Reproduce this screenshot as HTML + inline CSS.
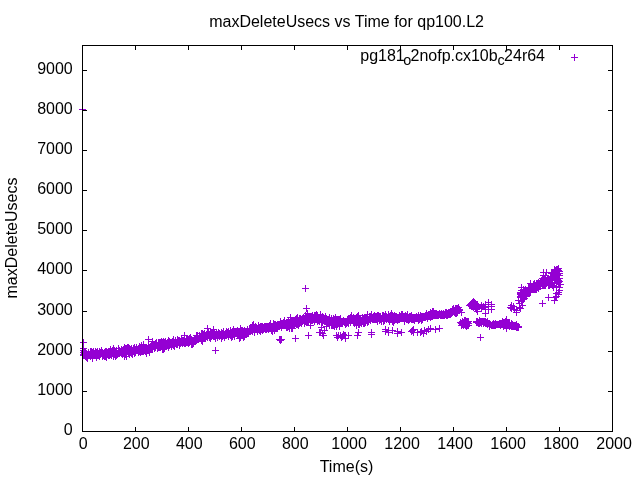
<!DOCTYPE html>
<html><head><meta charset="utf-8"><title>maxDeleteUsecs vs Time for qp100.L2</title>
<style>
html,body{margin:0;padding:0;background:#fff;}
svg{display:block;font-family:"Liberation Sans",Arial,sans-serif;font-size:16px;fill:#000;}
</style></head><body>
<svg width="640" height="480" viewBox="0 0 640 480">
<rect width="640" height="480" fill="#fff"/>
<path d="M82.5 431.5v-4.5M82.5 45.5v4.5M135.5 431.5v-4.5M135.5 45.5v4.5M188.5 431.5v-4.5M188.5 45.5v4.5M241.5 431.5v-4.5M241.5 45.5v4.5M294.5 431.5v-4.5M294.5 45.5v4.5M347.5 431.5v-4.5M347.5 45.5v4.5M400.5 431.5v-4.5M400.5 45.5v4.5M453.5 431.5v-4.5M453.5 45.5v4.5M506.5 431.5v-4.5M506.5 45.5v4.5M559.5 431.5v-4.5M559.5 45.5v4.5M612.5 431.5v-4.5M612.5 45.5v4.5M82.5 431.5h4.5M612.5 431.5h-4.5M82.5 391.5h4.5M612.5 391.5h-4.5M82.5 351.5h4.5M612.5 351.5h-4.5M82.5 311.5h4.5M612.5 311.5h-4.5M82.5 270.5h4.5M612.5 270.5h-4.5M82.5 230.5h4.5M612.5 230.5h-4.5M82.5 190.5h4.5M612.5 190.5h-4.5M82.5 150.5h4.5M612.5 150.5h-4.5M82.5 110.5h4.5M612.5 110.5h-4.5M82.5 70.5h4.5M612.5 70.5h-4.5" fill="none" stroke="#000" stroke-width="1" shape-rendering="crispEdges"/>
<g>
<text x="83.3" y="449.1" text-anchor="middle">0</text>
<text x="136.3" y="449.1" text-anchor="middle">200</text>
<text x="189.3" y="449.1" text-anchor="middle">400</text>
<text x="242.3" y="449.1" text-anchor="middle">600</text>
<text x="295.3" y="449.1" text-anchor="middle">800</text>
<text x="349.1" y="449.1" text-anchor="middle">1000</text>
<text x="402.1" y="449.1" text-anchor="middle">1200</text>
<text x="455.1" y="449.1" text-anchor="middle">1400</text>
<text x="508.1" y="449.1" text-anchor="middle">1600</text>
<text x="561.1" y="449.1" text-anchor="middle">1800</text>
<text x="614.1" y="449.1" text-anchor="middle">2000</text>
<text x="72.75" y="434.9" text-anchor="end">0</text>
<text x="72.75" y="394.9" text-anchor="end">1000</text>
<text x="72.75" y="354.9" text-anchor="end">2000</text>
<text x="72.75" y="314.9" text-anchor="end">3000</text>
<text x="72.75" y="273.9" text-anchor="end">4000</text>
<text x="72.75" y="233.9" text-anchor="end">5000</text>
<text x="72.75" y="193.9" text-anchor="end">6000</text>
<text x="72.75" y="153.9" text-anchor="end">7000</text>
<text x="72.75" y="113.9" text-anchor="end">8000</text>
<text x="72.75" y="73.9" text-anchor="end">9000</text>
</g>
<text x="346.6" y="27.2" text-anchor="middle">maxDeleteUsecs vs Time for qp100.L2</text>
<text x="346.5" y="472" text-anchor="middle">Time(s)</text>
<text transform="translate(17.4,238) rotate(-90)" text-anchor="middle">maxDeleteUsecs</text>
<text x="545" y="60.6" text-anchor="end">pg181<tspan font-size="14.4px" dy="4" dx="-1.5">o</tspan><tspan dy="-4" dx="-0.8">2nofp.cx10b</tspan><tspan font-size="14.4px" dy="4" dx="-0.3">c</tspan><tspan dy="-4" dx="-0.5">24r64</tspan></text>
<path d="M80 350.5h7M83.5 347v7M80 354.5h7M83.5 351v7M81 355.5h7M84.5 352v7M81 352.5h7M84.5 349v7M81 351.5h7M84.5 348v7M81 353.5h7M84.5 350v7M82 354.5h7M85.5 351v7M82 356.5h7M85.5 353v7M82 351.5h7M85.5 348v7M83 355.5h7M86.5 352v7M83 357.5h7M86.5 354v7M83 356.5h7M86.5 353v7M84 354.5h7M87.5 351v7M84 358.5h7M87.5 355v7M85 353.5h7M88.5 350v7M85 352.5h7M88.5 349v7M85 355.5h7M88.5 352v7M86 355.5h7M89.5 352v7M86 354.5h7M89.5 351v7M87 355.5h7M90.5 352v7M87 356.5h7M90.5 353v7M87 354.5h7M90.5 351v7M87 351.5h7M90.5 348v7M88 355.5h7M91.5 352v7M88 351.5h7M91.5 348v7M88 353.5h7M91.5 350v7M89 354.5h7M92.5 351v7M89 352.5h7M92.5 349v7M89 358.5h7M92.5 355v7M90 353.5h7M93.5 350v7M90 355.5h7M93.5 352v7M90 351.5h7M93.5 348v7M91 353.5h7M94.5 350v7M91 355.5h7M94.5 352v7M91 354.5h7M94.5 351v7M92 353.5h7M95.5 350v7M92 351.5h7M95.5 348v7M92 354.5h7M95.5 351v7M93 357.5h7M96.5 354v7M93 352.5h7M96.5 349v7M93 354.5h7M96.5 351v7M93 353.5h7M96.5 350v7M94 355.5h7M97.5 352v7M94 351.5h7M97.5 348v7M94 352.5h7M97.5 349v7M95 355.5h7M98.5 352v7M95 354.5h7M98.5 351v7M95 353.5h7M98.5 350v7M96 351.5h7M99.5 348v7M96 354.5h7M99.5 351v7M96 356.5h7M99.5 353v7M97 352.5h7M100.5 349v7M97 354.5h7M100.5 351v7M97 353.5h7M100.5 350v7M98 353.5h7M101.5 350v7M98 351.5h7M101.5 348v7M98 350.5h7M101.5 347v7M99 352.5h7M102.5 349v7M99 354.5h7M102.5 351v7M99 356.5h7M102.5 353v7M99 355.5h7M102.5 352v7M100 355.5h7M103.5 352v7M100 354.5h7M103.5 351v7M101 353.5h7M104.5 350v7M101 354.5h7M104.5 351v7M101 356.5h7M104.5 353v7M101 352.5h7M104.5 349v7M102 351.5h7M105.5 348v7M102 356.5h7M105.5 353v7M102 353.5h7M105.5 350v7M102 355.5h7M105.5 352v7M103 354.5h7M106.5 351v7M103 351.5h7M106.5 348v7M103 357.5h7M106.5 354v7M103 356.5h7M106.5 353v7M104 353.5h7M107.5 350v7M104 354.5h7M107.5 351v7M105 351.5h7M108.5 348v7M105 353.5h7M108.5 350v7M105 355.5h7M108.5 352v7M106 354.5h7M109.5 351v7M106 353.5h7M109.5 350v7M106 355.5h7M109.5 352v7M106 351.5h7M109.5 348v7M107 354.5h7M110.5 351v7M107 352.5h7M110.5 349v7M107 349.5h7M110.5 346v7M108 351.5h7M111.5 348v7M108 353.5h7M111.5 350v7M108 355.5h7M111.5 352v7M109 350.5h7M112.5 347v7M109 352.5h7M112.5 349v7M109 353.5h7M112.5 350v7M110 352.5h7M113.5 349v7M110 348.5h7M113.5 345v7M110 354.5h7M113.5 351v7M110 356.5h7M113.5 353v7M111 354.5h7M114.5 351v7M111 350.5h7M114.5 347v7M111 351.5h7M114.5 348v7M111 352.5h7M114.5 349v7M112 356.5h7M115.5 353v7M112 353.5h7M115.5 350v7M112 352.5h7M115.5 349v7M112 355.5h7M115.5 352v7M113 352.5h7M116.5 349v7M113 355.5h7M116.5 352v7M113 350.5h7M116.5 347v7M113 351.5h7M116.5 348v7M114 353.5h7M117.5 350v7M114 354.5h7M117.5 351v7M115 352.5h7M118.5 349v7M115 348.5h7M118.5 345v7M115 350.5h7M118.5 347v7M116 350.5h7M119.5 347v7M116 353.5h7M119.5 350v7M116 351.5h7M119.5 348v7M117 352.5h7M120.5 349v7M117 351.5h7M120.5 348v7M118 353.5h7M121.5 350v7M118 350.5h7M121.5 347v7M118 351.5h7M121.5 348v7M118 349.5h7M121.5 346v7M119 354.5h7M122.5 351v7M119 351.5h7M122.5 348v7M120 350.5h7M123.5 347v7M120 349.5h7M123.5 346v7M120 352.5h7M123.5 349v7M121 356.5h7M124.5 353v7M121 352.5h7M124.5 349v7M121 350.5h7M124.5 347v7M121 347.5h7M124.5 344v7M122 354.5h7M125.5 351v7M122 352.5h7M125.5 349v7M122 348.5h7M125.5 345v7M122 351.5h7M125.5 348v7M123 348.5h7M126.5 345v7M123 356.5h7M126.5 353v7M123 353.5h7M126.5 350v7M123 352.5h7M126.5 349v7M124 351.5h7M127.5 348v7M124 347.5h7M127.5 344v7M125 348.5h7M128.5 345v7M125 352.5h7M128.5 349v7M125 347.5h7M128.5 344v7M125 349.5h7M128.5 346v7M126 353.5h7M129.5 350v7M126 354.5h7M129.5 351v7M126 349.5h7M129.5 346v7M126 348.5h7M129.5 345v7M127 352.5h7M130.5 349v7M127 349.5h7M130.5 346v7M128 349.5h7M131.5 346v7M128 348.5h7M131.5 345v7M128 353.5h7M131.5 350v7M129 352.5h7M132.5 349v7M129 354.5h7M132.5 351v7M129 350.5h7M132.5 347v7M130 350.5h7M133.5 347v7M130 349.5h7M133.5 346v7M130 348.5h7M133.5 345v7M131 347.5h7M134.5 344v7M131 351.5h7M134.5 348v7M131 353.5h7M134.5 350v7M131 352.5h7M134.5 349v7M132 352.5h7M135.5 349v7M132 351.5h7M135.5 348v7M132 349.5h7M135.5 346v7M132 350.5h7M135.5 347v7M133 349.5h7M136.5 346v7M133 348.5h7M136.5 345v7M133 347.5h7M136.5 344v7M134 350.5h7M137.5 347v7M134 349.5h7M137.5 346v7M135 352.5h7M138.5 349v7M135 350.5h7M138.5 347v7M135 351.5h7M138.5 348v7M136 348.5h7M139.5 345v7M136 346.5h7M139.5 343v7M136 351.5h7M139.5 348v7M137 352.5h7M140.5 349v7M137 350.5h7M140.5 347v7M137 351.5h7M140.5 348v7M138 345.5h7M141.5 342v7M138 351.5h7M141.5 348v7M138 348.5h7M141.5 345v7M139 348.5h7M142.5 345v7M139 351.5h7M142.5 348v7M140 351.5h7M143.5 348v7M140 346.5h7M143.5 343v7M140 348.5h7M143.5 345v7M140 344.5h7M143.5 341v7M141 349.5h7M144.5 346v7M141 350.5h7M144.5 347v7M141 347.5h7M144.5 344v7M142 349.5h7M145.5 346v7M142 351.5h7M145.5 348v7M142 347.5h7M145.5 344v7M143 347.5h7M146.5 344v7M143 353.5h7M146.5 350v7M143 351.5h7M146.5 348v7M144 348.5h7M147.5 345v7M144 349.5h7M147.5 346v7M145 348.5h7M148.5 345v7M145 345.5h7M148.5 342v7M145 347.5h7M148.5 344v7M146 352.5h7M149.5 349v7M146 350.5h7M149.5 347v7M146 348.5h7M149.5 345v7M146 347.5h7M149.5 344v7M147 348.5h7M150.5 345v7M147 346.5h7M150.5 343v7M148 348.5h7M151.5 345v7M148 345.5h7M151.5 342v7M149 344.5h7M152.5 341v7M149 348.5h7M152.5 345v7M149 341.5h7M152.5 338v7M150 345.5h7M153.5 342v7M150 344.5h7M153.5 341v7M150 346.5h7M153.5 343v7M151 348.5h7M154.5 345v7M151 346.5h7M154.5 343v7M151 345.5h7M154.5 342v7M151 344.5h7M154.5 341v7M152 345.5h7M155.5 342v7M152 347.5h7M155.5 344v7M152 343.5h7M155.5 340v7M153 343.5h7M156.5 340v7M153 342.5h7M156.5 339v7M154 347.5h7M157.5 344v7M154 346.5h7M157.5 343v7M154 345.5h7M157.5 342v7M154 348.5h7M157.5 345v7M155 344.5h7M158.5 341v7M155 347.5h7M158.5 344v7M155 342.5h7M158.5 339v7M156 342.5h7M159.5 339v7M156 343.5h7M159.5 340v7M156 347.5h7M159.5 344v7M157 342.5h7M160.5 339v7M157 347.5h7M160.5 344v7M157 344.5h7M160.5 341v7M158 344.5h7M161.5 341v7M158 341.5h7M161.5 338v7M159 343.5h7M162.5 340v7M159 342.5h7M162.5 339v7M159 345.5h7M162.5 342v7M159 349.5h7M162.5 346v7M160 349.5h7M163.5 346v7M160 344.5h7M163.5 341v7M160 341.5h7M163.5 338v7M160 343.5h7M163.5 340v7M161 342.5h7M164.5 339v7M161 348.5h7M164.5 345v7M161 345.5h7M164.5 342v7M161 343.5h7M164.5 340v7M162 346.5h7M165.5 343v7M162 345.5h7M165.5 342v7M162 341.5h7M165.5 338v7M162 343.5h7M165.5 340v7M163 343.5h7M166.5 340v7M163 344.5h7M166.5 341v7M164 343.5h7M167.5 340v7M164 344.5h7M167.5 341v7M164 342.5h7M167.5 339v7M165 347.5h7M168.5 344v7M165 344.5h7M168.5 341v7M165 340.5h7M168.5 337v7M166 343.5h7M169.5 340v7M166 345.5h7M169.5 342v7M166 341.5h7M169.5 338v7M167 342.5h7M170.5 339v7M167 344.5h7M170.5 341v7M167 343.5h7M170.5 340v7M168 345.5h7M171.5 342v7M168 342.5h7M171.5 339v7M168 346.5h7M171.5 343v7M169 341.5h7M172.5 338v7M169 344.5h7M172.5 341v7M170 342.5h7M173.5 339v7M170 344.5h7M173.5 341v7M170 345.5h7M173.5 342v7M170 339.5h7M173.5 336v7M171 343.5h7M174.5 340v7M171 346.5h7M174.5 343v7M171 345.5h7M174.5 342v7M171 342.5h7M174.5 339v7M172 341.5h7M175.5 338v7M172 342.5h7M175.5 339v7M172 340.5h7M175.5 337v7M173 342.5h7M176.5 339v7M173 344.5h7M176.5 341v7M174 342.5h7M177.5 339v7M174 339.5h7M177.5 336v7M174 344.5h7M177.5 341v7M174 340.5h7M177.5 337v7M175 341.5h7M178.5 338v7M175 340.5h7M178.5 337v7M176 341.5h7M179.5 338v7M176 345.5h7M179.5 342v7M176 340.5h7M179.5 337v7M177 343.5h7M180.5 340v7M177 342.5h7M180.5 339v7M178 338.5h7M181.5 335v7M178 339.5h7M181.5 336v7M178 341.5h7M181.5 338v7M179 342.5h7M182.5 339v7M179 343.5h7M182.5 340v7M179 340.5h7M182.5 337v7M180 341.5h7M183.5 338v7M180 340.5h7M183.5 337v7M180 342.5h7M183.5 339v7M181 340.5h7M184.5 337v7M181 339.5h7M184.5 336v7M181 343.5h7M184.5 340v7M182 343.5h7M185.5 340v7M182 342.5h7M185.5 339v7M183 341.5h7M186.5 338v7M183 342.5h7M186.5 339v7M183 338.5h7M186.5 335v7M184 340.5h7M187.5 337v7M184 339.5h7M187.5 336v7M184 342.5h7M187.5 339v7M185 340.5h7M188.5 337v7M185 341.5h7M188.5 338v7M185 343.5h7M188.5 340v7M185 339.5h7M188.5 336v7M186 338.5h7M189.5 335v7M186 342.5h7M189.5 339v7M186 341.5h7M189.5 338v7M187 339.5h7M190.5 336v7M187 340.5h7M190.5 337v7M187 337.5h7M190.5 334v7M188 342.5h7M191.5 339v7M188 339.5h7M191.5 336v7M188 344.5h7M191.5 341v7M189 342.5h7M192.5 339v7M189 344.5h7M192.5 341v7M189 341.5h7M192.5 338v7M189 340.5h7M192.5 337v7M190 341.5h7M193.5 338v7M190 343.5h7M193.5 340v7M190 340.5h7M193.5 337v7M191 341.5h7M194.5 338v7M191 339.5h7M194.5 336v7M191 340.5h7M194.5 337v7M192 338.5h7M195.5 335v7M192 341.5h7M195.5 338v7M193 339.5h7M196.5 336v7M193 337.5h7M196.5 334v7M193 335.5h7M196.5 332v7M193 340.5h7M196.5 337v7M194 339.5h7M197.5 336v7M194 335.5h7M197.5 332v7M194 338.5h7M197.5 335v7M195 338.5h7M198.5 335v7M195 339.5h7M198.5 336v7M196 338.5h7M199.5 335v7M196 335.5h7M199.5 332v7M196 337.5h7M199.5 334v7M196 336.5h7M199.5 333v7M197 337.5h7M200.5 334v7M197 338.5h7M200.5 335v7M198 340.5h7M201.5 337v7M198 333.5h7M201.5 330v7M198 338.5h7M201.5 335v7M198 336.5h7M201.5 333v7M199 341.5h7M202.5 338v7M199 338.5h7M202.5 335v7M199 333.5h7M202.5 330v7M199 337.5h7M202.5 334v7M200 335.5h7M203.5 332v7M200 338.5h7M203.5 335v7M200 334.5h7M203.5 331v7M200 336.5h7M203.5 333v7M201 336.5h7M204.5 333v7M201 335.5h7M204.5 332v7M201 333.5h7M204.5 330v7M202 336.5h7M205.5 333v7M202 337.5h7M205.5 334v7M202 335.5h7M205.5 332v7M203 334.5h7M206.5 331v7M203 336.5h7M206.5 333v7M203 335.5h7M206.5 332v7M204 335.5h7M207.5 332v7M204 337.5h7M207.5 334v7M204 333.5h7M207.5 330v7M204 334.5h7M207.5 331v7M205 332.5h7M208.5 329v7M205 334.5h7M208.5 331v7M205 333.5h7M208.5 330v7M206 334.5h7M209.5 331v7M206 337.5h7M209.5 334v7M207 338.5h7M210.5 335v7M207 334.5h7M210.5 331v7M207 332.5h7M210.5 329v7M208 335.5h7M211.5 332v7M208 333.5h7M211.5 330v7M208 336.5h7M211.5 333v7M209 334.5h7M212.5 331v7M209 333.5h7M212.5 330v7M210 334.5h7M213.5 331v7M210 336.5h7M213.5 333v7M211 336.5h7M214.5 333v7M211 335.5h7M214.5 332v7M211 333.5h7M214.5 330v7M212 335.5h7M215.5 332v7M212 338.5h7M215.5 335v7M212 334.5h7M215.5 331v7M213 333.5h7M216.5 330v7M214 334.5h7M217.5 331v7M214 337.5h7M217.5 334v7M214 335.5h7M217.5 332v7M215 332.5h7M218.5 329v7M215 335.5h7M218.5 332v7M215 334.5h7M218.5 331v7M216 333.5h7M219.5 330v7M216 334.5h7M219.5 331v7M216 336.5h7M219.5 333v7M216 335.5h7M219.5 332v7M217 335.5h7M220.5 332v7M217 334.5h7M220.5 331v7M218 334.5h7M221.5 331v7M218 338.5h7M221.5 335v7M218 332.5h7M221.5 329v7M218 333.5h7M221.5 330v7M219 336.5h7M222.5 333v7M219 333.5h7M222.5 330v7M219 334.5h7M222.5 331v7M220 334.5h7M223.5 331v7M220 333.5h7M223.5 330v7M220 331.5h7M223.5 328v7M220 332.5h7M223.5 329v7M221 337.5h7M224.5 334v7M221 335.5h7M224.5 332v7M222 334.5h7M225.5 331v7M222 335.5h7M225.5 332v7M222 333.5h7M225.5 330v7M223 333.5h7M226.5 330v7M223 335.5h7M226.5 332v7M223 331.5h7M226.5 328v7M224 333.5h7M227.5 330v7M224 332.5h7M227.5 329v7M224 334.5h7M227.5 331v7M225 331.5h7M228.5 328v7M225 333.5h7M228.5 330v7M225 336.5h7M228.5 333v7M226 333.5h7M229.5 330v7M226 334.5h7M229.5 331v7M227 335.5h7M230.5 332v7M227 330.5h7M230.5 327v7M228 333.5h7M231.5 330v7M228 332.5h7M231.5 329v7M228 337.5h7M231.5 334v7M229 336.5h7M232.5 333v7M229 335.5h7M232.5 332v7M229 331.5h7M232.5 328v7M229 334.5h7M232.5 331v7M230 334.5h7M233.5 331v7M230 333.5h7M233.5 330v7M230 329.5h7M233.5 326v7M230 332.5h7M233.5 329v7M231 333.5h7M234.5 330v7M231 331.5h7M234.5 328v7M231 336.5h7M234.5 333v7M232 332.5h7M235.5 329v7M232 331.5h7M235.5 328v7M233 331.5h7M236.5 328v7M233 333.5h7M236.5 330v7M233 332.5h7M236.5 329v7M234 333.5h7M237.5 330v7M234 330.5h7M237.5 327v7M234 334.5h7M237.5 331v7M234 332.5h7M237.5 329v7M235 334.5h7M238.5 331v7M235 331.5h7M238.5 328v7M235 332.5h7M238.5 329v7M236 331.5h7M239.5 328v7M236 338.5h7M239.5 335v7M236 333.5h7M239.5 330v7M237 333.5h7M240.5 330v7M237 332.5h7M240.5 329v7M237 337.5h7M240.5 334v7M237 336.5h7M240.5 333v7M238 334.5h7M241.5 331v7M238 330.5h7M241.5 327v7M238 332.5h7M241.5 329v7M239 332.5h7M242.5 329v7M239 330.5h7M242.5 327v7M239 331.5h7M242.5 328v7M240 333.5h7M243.5 330v7M240 331.5h7M243.5 328v7M240 337.5h7M243.5 334v7M241 336.5h7M244.5 333v7M241 330.5h7M244.5 327v7M241 333.5h7M244.5 330v7M242 332.5h7M245.5 329v7M242 334.5h7M245.5 331v7M242 331.5h7M245.5 328v7M243 331.5h7M246.5 328v7M243 332.5h7M246.5 329v7M243 334.5h7M246.5 331v7M244 333.5h7M247.5 330v7M244 329.5h7M247.5 326v7M244 331.5h7M247.5 328v7M244 330.5h7M247.5 327v7M245 333.5h7M248.5 330v7M245 331.5h7M248.5 328v7M245 332.5h7M248.5 329v7M246 328.5h7M249.5 325v7M246 331.5h7M249.5 328v7M247 331.5h7M250.5 328v7M247 328.5h7M250.5 325v7M247 330.5h7M250.5 327v7M247 329.5h7M250.5 326v7M248 329.5h7M251.5 326v7M248 330.5h7M251.5 327v7M248 328.5h7M251.5 325v7M249 326.5h7M252.5 323v7M249 325.5h7M252.5 322v7M249 328.5h7M252.5 325v7M249 331.5h7M252.5 328v7M250 329.5h7M253.5 326v7M250 324.5h7M253.5 321v7M250 327.5h7M253.5 324v7M251 332.5h7M254.5 329v7M251 331.5h7M254.5 328v7M251 329.5h7M254.5 326v7M252 329.5h7M255.5 326v7M252 326.5h7M255.5 323v7M252 327.5h7M255.5 324v7M252 328.5h7M255.5 325v7M253 327.5h7M256.5 324v7M253 328.5h7M256.5 325v7M253 329.5h7M256.5 326v7M254 331.5h7M257.5 328v7M254 329.5h7M257.5 326v7M254 328.5h7M257.5 325v7M255 325.5h7M258.5 322v7M255 328.5h7M258.5 325v7M255 329.5h7M258.5 326v7M255 326.5h7M258.5 323v7M256 330.5h7M259.5 327v7M256 327.5h7M259.5 324v7M256 328.5h7M259.5 325v7M257 327.5h7M260.5 324v7M257 326.5h7M260.5 323v7M257 331.5h7M260.5 328v7M258 329.5h7M261.5 326v7M258 327.5h7M261.5 324v7M258 328.5h7M261.5 325v7M258 326.5h7M261.5 323v7M259 327.5h7M262.5 324v7M259 329.5h7M262.5 326v7M259 330.5h7M262.5 327v7M259 326.5h7M262.5 323v7M260 328.5h7M263.5 325v7M260 329.5h7M263.5 326v7M260 327.5h7M263.5 324v7M261 326.5h7M264.5 323v7M261 328.5h7M264.5 325v7M262 329.5h7M265.5 326v7M262 328.5h7M265.5 325v7M262 326.5h7M265.5 323v7M263 326.5h7M266.5 323v7M263 328.5h7M266.5 325v7M263 329.5h7M266.5 326v7M264 327.5h7M267.5 324v7M264 328.5h7M267.5 325v7M264 326.5h7M267.5 323v7M265 327.5h7M268.5 324v7M265 329.5h7M268.5 326v7M266 327.5h7M269.5 324v7M266 325.5h7M269.5 322v7M266 326.5h7M269.5 323v7M267 328.5h7M270.5 325v7M267 327.5h7M270.5 324v7M267 323.5h7M270.5 320v7M268 329.5h7M271.5 326v7M268 328.5h7M271.5 325v7M268 330.5h7M271.5 327v7M269 326.5h7M272.5 323v7M269 328.5h7M272.5 325v7M269 331.5h7M272.5 328v7M270 323.5h7M273.5 320v7M270 326.5h7M273.5 323v7M270 325.5h7M273.5 322v7M271 328.5h7M274.5 325v7M271 330.5h7M274.5 327v7M271 326.5h7M274.5 323v7M271 324.5h7M274.5 321v7M272 327.5h7M275.5 324v7M272 326.5h7M275.5 323v7M272 324.5h7M275.5 321v7M272 328.5h7M275.5 325v7M273 326.5h7M276.5 323v7M273 328.5h7M276.5 325v7M273 325.5h7M276.5 322v7M274 324.5h7M277.5 321v7M274 328.5h7M277.5 325v7M275 326.5h7M278.5 323v7M275 324.5h7M278.5 321v7M276 326.5h7M279.5 323v7M276 324.5h7M279.5 321v7M276 325.5h7M279.5 322v7M277 325.5h7M280.5 322v7M277 321.5h7M280.5 318v7M277 324.5h7M280.5 321v7M278 325.5h7M281.5 322v7M278 326.5h7M281.5 323v7M278 323.5h7M281.5 320v7M278 327.5h7M281.5 324v7M279 325.5h7M282.5 322v7M279 324.5h7M282.5 321v7M280 324.5h7M283.5 321v7M280 322.5h7M283.5 319v7M280 325.5h7M283.5 322v7M281 324.5h7M284.5 321v7M281 320.5h7M284.5 317v7M281 321.5h7M284.5 318v7M281 325.5h7M284.5 322v7M282 324.5h7M285.5 321v7M282 325.5h7M285.5 322v7M283 327.5h7M286.5 324v7M283 322.5h7M286.5 319v7M283 324.5h7M286.5 321v7M284 325.5h7M287.5 322v7M284 327.5h7M287.5 324v7M284 322.5h7M287.5 319v7M285 326.5h7M288.5 323v7M285 324.5h7M288.5 321v7M285 320.5h7M288.5 317v7M286 323.5h7M289.5 320v7M286 328.5h7M289.5 325v7M286 325.5h7M289.5 322v7M286 322.5h7M289.5 319v7M287 317.5h7M290.5 314v7M287 321.5h7M290.5 318v7M287 323.5h7M290.5 320v7M288 328.5h7M291.5 325v7M288 325.5h7M291.5 322v7M288 323.5h7M291.5 320v7M288 320.5h7M291.5 317v7M289 320.5h7M292.5 317v7M289 322.5h7M292.5 319v7M289 328.5h7M292.5 325v7M290 322.5h7M293.5 319v7M290 321.5h7M293.5 318v7M290 325.5h7M293.5 322v7M291 323.5h7M294.5 320v7M291 320.5h7M294.5 317v7M291 325.5h7M294.5 322v7M291 322.5h7M294.5 319v7M292 319.5h7M295.5 316v7M292 323.5h7M295.5 320v7M292 321.5h7M295.5 318v7M293 323.5h7M296.5 320v7M293 324.5h7M296.5 321v7M293 320.5h7M296.5 317v7M293 318.5h7M296.5 315v7M294 317.5h7M297.5 314v7M294 321.5h7M297.5 318v7M294 324.5h7M297.5 321v7M294 323.5h7M297.5 320v7M295 324.5h7M298.5 321v7M295 325.5h7M298.5 322v7M295 321.5h7M298.5 318v7M296 323.5h7M299.5 320v7M296 318.5h7M299.5 315v7M296 322.5h7M299.5 319v7M297 320.5h7M300.5 317v7M297 318.5h7M300.5 315v7M297 321.5h7M300.5 318v7M298 323.5h7M301.5 320v7M298 320.5h7M301.5 317v7M298 321.5h7M301.5 318v7M298 319.5h7M301.5 316v7M299 321.5h7M302.5 318v7M299 318.5h7M302.5 315v7M299 319.5h7M302.5 316v7M300 320.5h7M303.5 317v7M300 318.5h7M303.5 315v7M300 317.5h7M303.5 314v7M301 319.5h7M304.5 316v7M301 322.5h7M304.5 319v7M301 323.5h7M304.5 320v7M302 321.5h7M305.5 318v7M302 320.5h7M305.5 317v7M302 315.5h7M305.5 312v7M303 320.5h7M306.5 317v7M303 317.5h7M306.5 314v7M303 322.5h7M306.5 319v7M303 321.5h7M306.5 318v7M304 321.5h7M307.5 318v7M304 313.5h7M307.5 310v7M305 316.5h7M308.5 313v7M305 322.5h7M308.5 319v7M305 319.5h7M308.5 316v7M306 319.5h7M309.5 316v7M306 317.5h7M309.5 314v7M306 316.5h7M309.5 313v7M306 318.5h7M309.5 315v7M307 325.5h7M310.5 322v7M307 319.5h7M310.5 316v7M307 317.5h7M310.5 314v7M308 317.5h7M311.5 314v7M308 316.5h7M311.5 313v7M308 320.5h7M311.5 317v7M309 317.5h7M312.5 314v7M309 320.5h7M312.5 317v7M309 315.5h7M312.5 312v7M310 318.5h7M313.5 315v7M310 319.5h7M313.5 316v7M310 317.5h7M313.5 314v7M311 315.5h7M314.5 312v7M311 321.5h7M314.5 318v7M311 316.5h7M314.5 313v7M311 317.5h7M314.5 314v7M312 315.5h7M315.5 312v7M312 318.5h7M315.5 315v7M312 317.5h7M315.5 314v7M312 319.5h7M315.5 316v7M313 319.5h7M316.5 316v7M313 316.5h7M316.5 313v7M313 314.5h7M316.5 311v7M314 321.5h7M317.5 318v7M314 320.5h7M317.5 317v7M314 315.5h7M317.5 312v7M315 320.5h7M318.5 317v7M316 318.5h7M319.5 315v7M316 319.5h7M319.5 316v7M316 321.5h7M319.5 318v7M316 317.5h7M319.5 314v7M317 315.5h7M320.5 312v7M317 318.5h7M320.5 315v7M317 319.5h7M320.5 316v7M317 314.5h7M320.5 311v7M318 317.5h7M321.5 314v7M318 320.5h7M321.5 317v7M318 318.5h7M321.5 315v7M318 319.5h7M321.5 316v7M319 316.5h7M322.5 313v7M319 320.5h7M322.5 317v7M319 322.5h7M322.5 319v7M320 318.5h7M323.5 315v7M320 317.5h7M323.5 314v7M320 320.5h7M323.5 317v7M321 319.5h7M324.5 316v7M321 318.5h7M324.5 315v7M321 321.5h7M324.5 318v7M321 320.5h7M324.5 317v7M322 320.5h7M325.5 317v7M322 316.5h7M325.5 313v7M322 319.5h7M325.5 316v7M322 321.5h7M325.5 318v7M323 318.5h7M326.5 315v7M323 321.5h7M326.5 318v7M323 322.5h7M326.5 319v7M324 319.5h7M327.5 316v7M324 322.5h7M327.5 319v7M325 322.5h7M328.5 319v7M325 323.5h7M328.5 320v7M325 321.5h7M328.5 318v7M326 320.5h7M329.5 317v7M326 317.5h7M329.5 314v7M326 322.5h7M329.5 319v7M326 325.5h7M329.5 322v7M327 320.5h7M330.5 317v7M327 322.5h7M330.5 319v7M328 318.5h7M331.5 315v7M328 320.5h7M331.5 317v7M328 319.5h7M331.5 316v7M328 325.5h7M331.5 322v7M329 320.5h7M332.5 317v7M329 323.5h7M332.5 320v7M329 325.5h7M332.5 322v7M330 325.5h7M333.5 322v7M330 324.5h7M333.5 321v7M330 318.5h7M333.5 315v7M331 320.5h7M334.5 317v7M331 319.5h7M334.5 316v7M331 326.5h7M334.5 323v7M332 317.5h7M335.5 314v7M332 322.5h7M335.5 319v7M332 318.5h7M335.5 315v7M332 324.5h7M335.5 321v7M333 324.5h7M336.5 321v7M333 319.5h7M336.5 316v7M333 326.5h7M336.5 323v7M333 321.5h7M336.5 318v7M334 324.5h7M337.5 321v7M334 321.5h7M337.5 318v7M334 319.5h7M337.5 316v7M335 319.5h7M338.5 316v7M335 320.5h7M338.5 317v7M335 322.5h7M338.5 319v7M335 321.5h7M338.5 318v7M336 326.5h7M339.5 323v7M336 320.5h7M339.5 317v7M336 319.5h7M339.5 316v7M337 319.5h7M340.5 316v7M337 318.5h7M340.5 315v7M337 322.5h7M340.5 319v7M338 321.5h7M341.5 318v7M338 322.5h7M341.5 319v7M338 323.5h7M341.5 320v7M339 322.5h7M342.5 319v7M339 321.5h7M342.5 318v7M340 321.5h7M343.5 318v7M340 320.5h7M343.5 317v7M341 321.5h7M344.5 318v7M341 322.5h7M344.5 319v7M342 321.5h7M345.5 318v7M342 324.5h7M345.5 321v7M342 322.5h7M345.5 319v7M343 323.5h7M346.5 320v7M343 321.5h7M346.5 318v7M344 320.5h7M347.5 317v7M344 319.5h7M347.5 316v7M344 322.5h7M347.5 319v7M345 323.5h7M348.5 320v7M345 319.5h7M348.5 316v7M345 320.5h7M348.5 317v7M345 322.5h7M348.5 319v7M346 318.5h7M349.5 315v7M346 319.5h7M349.5 316v7M346 320.5h7M349.5 317v7M347 317.5h7M350.5 314v7M347 322.5h7M350.5 319v7M347 320.5h7M350.5 317v7M348 319.5h7M351.5 316v7M348 315.5h7M351.5 312v7M348 317.5h7M351.5 314v7M349 319.5h7M352.5 316v7M349 318.5h7M352.5 315v7M350 319.5h7M353.5 316v7M350 321.5h7M353.5 318v7M350 317.5h7M353.5 314v7M351 319.5h7M354.5 316v7M351 323.5h7M354.5 320v7M351 321.5h7M354.5 318v7M351 318.5h7M354.5 315v7M352 319.5h7M355.5 316v7M352 322.5h7M355.5 319v7M352 320.5h7M355.5 317v7M353 321.5h7M356.5 318v7M353 325.5h7M356.5 322v7M353 317.5h7M356.5 314v7M354 317.5h7M357.5 314v7M354 316.5h7M357.5 313v7M354 322.5h7M357.5 319v7M355 321.5h7M358.5 318v7M355 324.5h7M358.5 321v7M355 315.5h7M358.5 312v7M355 318.5h7M358.5 315v7M356 324.5h7M359.5 321v7M356 323.5h7M359.5 320v7M357 320.5h7M360.5 317v7M357 322.5h7M360.5 319v7M358 320.5h7M361.5 317v7M358 321.5h7M361.5 318v7M358 323.5h7M361.5 320v7M359 317.5h7M362.5 314v7M359 318.5h7M362.5 315v7M359 321.5h7M362.5 318v7M359 319.5h7M362.5 316v7M360 319.5h7M363.5 316v7M360 323.5h7M363.5 320v7M360 320.5h7M363.5 317v7M360 318.5h7M363.5 315v7M361 321.5h7M364.5 318v7M361 323.5h7M364.5 320v7M361 317.5h7M364.5 314v7M362 319.5h7M365.5 316v7M362 317.5h7M365.5 314v7M362 322.5h7M365.5 319v7M363 318.5h7M366.5 315v7M363 319.5h7M366.5 316v7M363 317.5h7M366.5 314v7M364 317.5h7M367.5 314v7M364 318.5h7M367.5 315v7M364 322.5h7M367.5 319v7M364 314.5h7M367.5 311v7M365 319.5h7M368.5 316v7M365 320.5h7M368.5 317v7M365 321.5h7M368.5 318v7M366 318.5h7M369.5 315v7M366 317.5h7M369.5 314v7M366 316.5h7M369.5 313v7M367 320.5h7M370.5 317v7M367 316.5h7M370.5 313v7M367 317.5h7M370.5 314v7M368 316.5h7M371.5 313v7M368 314.5h7M371.5 311v7M368 317.5h7M371.5 314v7M369 318.5h7M372.5 315v7M369 319.5h7M372.5 316v7M369 317.5h7M372.5 314v7M370 317.5h7M373.5 314v7M370 318.5h7M373.5 315v7M370 319.5h7M373.5 316v7M370 316.5h7M373.5 313v7M371 315.5h7M374.5 312v7M371 316.5h7M374.5 313v7M371 319.5h7M374.5 316v7M372 316.5h7M375.5 313v7M372 317.5h7M375.5 314v7M372 319.5h7M375.5 316v7M373 316.5h7M376.5 313v7M373 317.5h7M376.5 314v7M373 319.5h7M376.5 316v7M374 321.5h7M377.5 318v7M374 319.5h7M377.5 316v7M374 315.5h7M377.5 312v7M374 317.5h7M377.5 314v7M375 316.5h7M378.5 313v7M375 315.5h7M378.5 312v7M376 316.5h7M379.5 313v7M376 320.5h7M379.5 317v7M376 318.5h7M379.5 315v7M376 317.5h7M379.5 314v7M377 317.5h7M380.5 314v7M377 316.5h7M380.5 313v7M377 319.5h7M380.5 316v7M378 319.5h7M381.5 316v7M378 321.5h7M381.5 318v7M378 318.5h7M381.5 315v7M379 317.5h7M382.5 314v7M379 315.5h7M382.5 312v7M379 318.5h7M382.5 315v7M380 321.5h7M383.5 318v7M380 317.5h7M383.5 314v7M380 318.5h7M383.5 315v7M380 315.5h7M383.5 312v7M381 317.5h7M384.5 314v7M381 316.5h7M384.5 313v7M381 320.5h7M384.5 317v7M381 318.5h7M384.5 315v7M382 316.5h7M385.5 313v7M382 314.5h7M385.5 311v7M382 318.5h7M385.5 315v7M382 317.5h7M385.5 314v7M383 316.5h7M386.5 313v7M383 319.5h7M386.5 316v7M383 318.5h7M386.5 315v7M384 318.5h7M387.5 315v7M384 317.5h7M387.5 314v7M385 314.5h7M388.5 311v7M385 319.5h7M388.5 316v7M386 318.5h7M389.5 315v7M386 320.5h7M389.5 317v7M386 321.5h7M389.5 318v7M387 317.5h7M390.5 314v7M387 318.5h7M390.5 315v7M387 315.5h7M390.5 312v7M387 316.5h7M390.5 313v7M388 313.5h7M391.5 310v7M388 316.5h7M391.5 313v7M388 318.5h7M391.5 315v7M389 319.5h7M392.5 316v7M389 321.5h7M392.5 318v7M389 318.5h7M392.5 315v7M389 315.5h7M392.5 312v7M390 319.5h7M393.5 316v7M390 317.5h7M393.5 314v7M390 322.5h7M393.5 319v7M391 320.5h7M394.5 317v7M391 315.5h7M394.5 312v7M391 316.5h7M394.5 313v7M391 318.5h7M394.5 315v7M392 316.5h7M395.5 313v7M392 319.5h7M395.5 316v7M393 318.5h7M396.5 315v7M393 316.5h7M396.5 313v7M394 317.5h7M397.5 314v7M394 320.5h7M397.5 317v7M394 319.5h7M397.5 316v7M395 318.5h7M398.5 315v7M395 319.5h7M398.5 316v7M396 318.5h7M399.5 315v7M396 315.5h7M399.5 312v7M396 319.5h7M399.5 316v7M397 316.5h7M400.5 313v7M397 318.5h7M400.5 315v7M397 317.5h7M400.5 314v7M398 317.5h7M401.5 314v7M398 314.5h7M401.5 311v7M399 316.5h7M402.5 313v7M399 314.5h7M402.5 311v7M399 317.5h7M402.5 314v7M399 318.5h7M402.5 315v7M400 317.5h7M403.5 314v7M400 316.5h7M403.5 313v7M401 318.5h7M404.5 315v7M401 316.5h7M404.5 313v7M401 317.5h7M404.5 314v7M401 321.5h7M404.5 318v7M402 318.5h7M405.5 315v7M402 315.5h7M405.5 312v7M403 318.5h7M406.5 315v7M403 319.5h7M406.5 316v7M403 316.5h7M406.5 313v7M403 317.5h7M406.5 314v7M404 314.5h7M407.5 311v7M404 318.5h7M407.5 315v7M404 317.5h7M407.5 314v7M404 319.5h7M407.5 316v7M405 320.5h7M408.5 317v7M405 317.5h7M408.5 314v7M405 319.5h7M408.5 316v7M405 318.5h7M408.5 315v7M406 317.5h7M409.5 314v7M406 316.5h7M409.5 313v7M406 319.5h7M409.5 316v7M407 318.5h7M410.5 315v7M407 316.5h7M410.5 313v7M408 316.5h7M411.5 313v7M408 315.5h7M411.5 312v7M408 319.5h7M411.5 316v7M409 319.5h7M412.5 316v7M409 317.5h7M412.5 314v7M409 318.5h7M412.5 315v7M410 319.5h7M413.5 316v7M410 318.5h7M413.5 315v7M410 317.5h7M413.5 314v7M411 319.5h7M414.5 316v7M411 317.5h7M414.5 314v7M411 320.5h7M414.5 317v7M412 317.5h7M415.5 314v7M412 318.5h7M415.5 315v7M413 317.5h7M416.5 314v7M413 318.5h7M416.5 315v7M413 316.5h7M416.5 313v7M414 317.5h7M417.5 314v7M414 318.5h7M417.5 315v7M415 315.5h7M418.5 312v7M415 320.5h7M418.5 317v7M415 317.5h7M418.5 314v7M415 316.5h7M418.5 313v7M416 317.5h7M419.5 314v7M416 318.5h7M419.5 315v7M416 319.5h7M419.5 316v7M417 318.5h7M420.5 315v7M417 315.5h7M420.5 312v7M417 317.5h7M420.5 314v7M418 317.5h7M421.5 314v7M418 316.5h7M421.5 313v7M418 318.5h7M421.5 315v7M418 320.5h7M421.5 317v7M419 318.5h7M422.5 315v7M419 316.5h7M422.5 313v7M419 319.5h7M422.5 316v7M420 317.5h7M423.5 314v7M420 316.5h7M423.5 313v7M421 317.5h7M424.5 314v7M421 316.5h7M424.5 313v7M422 317.5h7M425.5 314v7M422 315.5h7M425.5 312v7M422 316.5h7M425.5 313v7M423 316.5h7M426.5 313v7M423 315.5h7M426.5 312v7M423 313.5h7M426.5 310v7M424 316.5h7M427.5 313v7M424 315.5h7M427.5 312v7M424 318.5h7M427.5 315v7M425 314.5h7M428.5 311v7M425 316.5h7M428.5 313v7M426 314.5h7M429.5 311v7M426 316.5h7M429.5 313v7M426 315.5h7M429.5 312v7M427 317.5h7M430.5 314v7M427 315.5h7M430.5 312v7M427 312.5h7M430.5 309v7M428 313.5h7M431.5 310v7M428 316.5h7M431.5 313v7M428 314.5h7M431.5 311v7M429 311.5h7M432.5 308v7M429 315.5h7M432.5 312v7M429 316.5h7M432.5 313v7M429 312.5h7M432.5 309v7M430 311.5h7M433.5 308v7M430 315.5h7M433.5 312v7M430 313.5h7M433.5 310v7M430 314.5h7M433.5 311v7M431 313.5h7M434.5 310v7M431 314.5h7M434.5 311v7M431 315.5h7M434.5 312v7M432 314.5h7M435.5 311v7M432 313.5h7M435.5 310v7M432 315.5h7M435.5 312v7M433 314.5h7M436.5 311v7M433 315.5h7M436.5 312v7M433 313.5h7M436.5 310v7M434 315.5h7M437.5 312v7M434 314.5h7M437.5 311v7M435 314.5h7M438.5 311v7M435 315.5h7M438.5 312v7M436 314.5h7M439.5 311v7M436 313.5h7M439.5 310v7M437 314.5h7M440.5 311v7M437 315.5h7M440.5 312v7M438 315.5h7M441.5 312v7M438 313.5h7M441.5 310v7M439 314.5h7M442.5 311v7M439 315.5h7M442.5 312v7M440 314.5h7M443.5 311v7M440 315.5h7M443.5 312v7M440 313.5h7M443.5 310v7M441 315.5h7M444.5 312v7M441 314.5h7M444.5 311v7M442 312.5h7M445.5 309v7M442 313.5h7M445.5 310v7M442 314.5h7M445.5 311v7M443 315.5h7M446.5 312v7M443 313.5h7M446.5 310v7M443 312.5h7M446.5 309v7M444 313.5h7M447.5 310v7M444 314.5h7M447.5 311v7M444 315.5h7M447.5 312v7M445 314.5h7M448.5 311v7M445 312.5h7M448.5 309v7M445 313.5h7M448.5 310v7M446 314.5h7M449.5 311v7M446 312.5h7M449.5 309v7M447 314.5h7M450.5 311v7M447 313.5h7M450.5 310v7M447 312.5h7M450.5 309v7M448 313.5h7M451.5 310v7M448 312.5h7M451.5 309v7M448 311.5h7M451.5 308v7M449 312.5h7M452.5 309v7M449 311.5h7M452.5 308v7M449 309.5h7M452.5 306v7M450 311.5h7M453.5 308v7M450 309.5h7M453.5 306v7M450 310.5h7M453.5 307v7M450 308.5h7M453.5 305v7M451 310.5h7M454.5 307v7M451 312.5h7M454.5 309v7M452 308.5h7M455.5 305v7M452 313.5h7M455.5 310v7M452 309.5h7M455.5 306v7M452 312.5h7M455.5 309v7M453 309.5h7M456.5 306v7M453 308.5h7M456.5 305v7M453 313.5h7M456.5 310v7M454 311.5h7M457.5 308v7M454 312.5h7M457.5 309v7M454 308.5h7M457.5 305v7M454 310.5h7M457.5 307v7M455 309.5h7M458.5 306v7M455 310.5h7M458.5 307v7M455 307.5h7M458.5 304v7M456 309.5h7M459.5 306v7M456 310.5h7M459.5 307v7M458 323.5h7M461.5 320v7M459 323.5h7M462.5 320v7M460 322.5h7M463.5 319v7M461 322.5h7M464.5 319v7M462 321.5h7M465.5 318v7M462 320.5h7M465.5 317v7M463 321.5h7M466.5 318v7M464 322.5h7M467.5 319v7M465 323.5h7M468.5 320v7M461 324.5h7M464.5 321v7M462 325.5h7M465.5 322v7M463 324.5h7M466.5 321v7M460 324.5h7M463.5 321v7M462 323.5h7M465.5 320v7M461 323.5h7M464.5 320v7M463 323.5h7M466.5 320v7M464 323.5h7M467.5 320v7M462 324.5h7M465.5 321v7M457 322.5h7M460.5 319v7M458 325.5h7M461.5 322v7M459 321.5h7M462.5 318v7M460 325.5h7M463.5 322v7M464 325.5h7M467.5 322v7M465 321.5h7M468.5 318v7M465 325.5h7M468.5 322v7M463 326.5h7M466.5 323v7M461 320.5h7M464.5 317v7M459 324.5h7M462.5 321v7M464 321.5h7M467.5 318v7M466 305.5h7M469.5 302v7M467 304.5h7M470.5 301v7M467 305.5h7M470.5 302v7M468 303.5h7M471.5 300v7M468 305.5h7M471.5 302v7M468 306.5h7M471.5 303v7M469 302.5h7M472.5 299v7M469 304.5h7M472.5 301v7M469 306.5h7M472.5 303v7M470 301.5h7M473.5 298v7M470 303.5h7M473.5 300v7M470 305.5h7M473.5 302v7M470 307.5h7M473.5 304v7M471 302.5h7M474.5 299v7M471 304.5h7M474.5 301v7M471 306.5h7M474.5 303v7M472 303.5h7M475.5 300v7M472 305.5h7M475.5 302v7M472 308.5h7M475.5 305v7M473 304.5h7M476.5 301v7M473 306.5h7M476.5 303v7M473 309.5h7M476.5 306v7M474 304.5h7M477.5 301v7M474 307.5h7M477.5 304v7M474 311.5h7M477.5 308v7M474 305.5h7M477.5 302v7M469 303.5h7M472.5 300v7M471 303.5h7M474.5 300v7M468 304.5h7M471.5 301v7M470 306.5h7M473.5 303v7M482 304.5h7M485.5 301v7M485 302.5h7M488.5 299v7M488 304.5h7M491.5 301v7M482 307.5h7M485.5 304v7M485 306.5h7M488.5 303v7M488 309.5h7M491.5 306v7M482 309.5h7M485.5 306v7M485 309.5h7M488.5 306v7M482 313.5h7M485.5 310v7M480 306.5h7M483.5 303v7M478 305.5h7M481.5 302v7M478 308.5h7M481.5 305v7M485 304.5h7M488.5 301v7M488 306.5h7M491.5 303v7M473 321.5h7M476.5 318v7M473 322.5h7M476.5 319v7M474 321.5h7M477.5 318v7M474 322.5h7M477.5 319v7M475 323.5h7M478.5 320v7M475 322.5h7M478.5 319v7M476 322.5h7M479.5 319v7M476 320.5h7M479.5 317v7M476 323.5h7M479.5 320v7M477 322.5h7M480.5 319v7M477 321.5h7M480.5 318v7M478 323.5h7M481.5 320v7M478 322.5h7M481.5 319v7M478 321.5h7M481.5 318v7M479 321.5h7M482.5 318v7M480 323.5h7M483.5 320v7M480 321.5h7M483.5 318v7M481 322.5h7M484.5 319v7M481 321.5h7M484.5 318v7M482 323.5h7M485.5 320v7M482 321.5h7M485.5 318v7M483 323.5h7M486.5 320v7M483 322.5h7M486.5 319v7M484 321.5h7M487.5 318v7M484 322.5h7M487.5 319v7M484 324.5h7M487.5 321v7M484 323.5h7M487.5 320v7M485 323.5h7M488.5 320v7M486 326.5h7M489.5 323v7M486 323.5h7M489.5 320v7M486 325.5h7M489.5 322v7M487 324.5h7M490.5 321v7M488 325.5h7M491.5 322v7M489 325.5h7M492.5 322v7M489 324.5h7M492.5 321v7M490 325.5h7M493.5 322v7M490 323.5h7M493.5 320v7M491 324.5h7M494.5 321v7M491 325.5h7M494.5 322v7M492 325.5h7M495.5 322v7M492 324.5h7M495.5 321v7M492 323.5h7M495.5 320v7M493 324.5h7M496.5 321v7M494 324.5h7M497.5 321v7M495 324.5h7M498.5 321v7M496 324.5h7M499.5 321v7M496 323.5h7M499.5 320v7M497 325.5h7M500.5 322v7M497 323.5h7M500.5 320v7M497 324.5h7M500.5 321v7M498 324.5h7M501.5 321v7M498 323.5h7M501.5 320v7M499 324.5h7M502.5 321v7M499 321.5h7M502.5 318v7M500 324.5h7M503.5 321v7M500 326.5h7M503.5 323v7M500 322.5h7M503.5 319v7M501 324.5h7M504.5 321v7M501 322.5h7M504.5 319v7M501 325.5h7M504.5 322v7M502 322.5h7M505.5 319v7M502 321.5h7M505.5 318v7M503 328.5h7M506.5 325v7M503 327.5h7M506.5 324v7M503 319.5h7M506.5 316v7M503 320.5h7M506.5 317v7M504 325.5h7M507.5 322v7M504 323.5h7M507.5 320v7M505 324.5h7M508.5 321v7M505 323.5h7M508.5 320v7M506 326.5h7M509.5 323v7M506 324.5h7M509.5 321v7M506 325.5h7M509.5 322v7M507 325.5h7M510.5 322v7M508 323.5h7M511.5 320v7M508 325.5h7M511.5 322v7M508 326.5h7M511.5 323v7M508 324.5h7M511.5 321v7M509 324.5h7M512.5 321v7M509 326.5h7M512.5 323v7M510 326.5h7M513.5 323v7M510 325.5h7M513.5 322v7M511 325.5h7M514.5 322v7M511 326.5h7M514.5 323v7M512 326.5h7M515.5 323v7M512 325.5h7M515.5 322v7M513 327.5h7M516.5 324v7M513 325.5h7M516.5 322v7M513 324.5h7M516.5 321v7M514 327.5h7M517.5 324v7M514 326.5h7M517.5 323v7M515 326.5h7M518.5 323v7M515 327.5h7M518.5 324v7M508 305.5h7M511.5 302v7M508 308.5h7M511.5 305v7M513 312.5h7M516.5 309v7M516 307.5h7M519.5 304v7M517 308.5h7M520.5 305v7M515 300.5h7M518.5 297v7M507 307.5h7M510.5 304v7M513 310.5h7M516.5 307v7M511 309.5h7M514.5 306v7M510 306.5h7M513.5 303v7M517 297.5h7M520.5 294v7M517 293.5h7M520.5 290v7M518 287.5h7M521.5 284v7M516 303.5h7M519.5 300v7M518 301.5h7M521.5 298v7M519 305.5h7M522.5 302v7M520 299.5h7M523.5 296v7M517 296.5h7M520.5 293v7M517 294.5h7M520.5 291v7M517 292.5h7M520.5 289v7M518 294.5h7M521.5 291v7M518 290.5h7M521.5 287v7M518 293.5h7M521.5 290v7M518 292.5h7M521.5 289v7M518 295.5h7M521.5 292v7M519 295.5h7M522.5 292v7M519 292.5h7M522.5 289v7M519 296.5h7M522.5 293v7M519 297.5h7M522.5 294v7M519 294.5h7M522.5 291v7M520 292.5h7M523.5 289v7M520 295.5h7M523.5 292v7M520 289.5h7M523.5 286v7M521 298.5h7M524.5 295v7M521 291.5h7M524.5 288v7M522 289.5h7M525.5 286v7M522 296.5h7M525.5 293v7M522 293.5h7M525.5 290v7M522 295.5h7M525.5 292v7M522 292.5h7M525.5 289v7M523 291.5h7M526.5 288v7M523 292.5h7M526.5 289v7M523 296.5h7M526.5 293v7M523 294.5h7M526.5 291v7M524 293.5h7M527.5 290v7M524 291.5h7M527.5 288v7M524 290.5h7M527.5 287v7M525 289.5h7M528.5 286v7M525 290.5h7M528.5 287v7M525 287.5h7M528.5 284v7M525 288.5h7M528.5 285v7M526 292.5h7M529.5 289v7M526 288.5h7M529.5 285v7M526 287.5h7M529.5 284v7M526 290.5h7M529.5 287v7M527 292.5h7M530.5 289v7M527 289.5h7M530.5 286v7M527 287.5h7M530.5 284v7M527 288.5h7M530.5 285v7M528 288.5h7M531.5 285v7M528 289.5h7M531.5 286v7M528 287.5h7M531.5 284v7M529 288.5h7M532.5 285v7M529 287.5h7M532.5 284v7M529 286.5h7M532.5 283v7M530 288.5h7M533.5 285v7M530 287.5h7M533.5 284v7M530 284.5h7M533.5 281v7M531 285.5h7M534.5 282v7M531 286.5h7M534.5 283v7M531 283.5h7M534.5 280v7M531 289.5h7M534.5 286v7M532 289.5h7M535.5 286v7M532 285.5h7M535.5 282v7M532 286.5h7M535.5 283v7M532 287.5h7M535.5 284v7M533 283.5h7M536.5 280v7M533 289.5h7M536.5 286v7M533 284.5h7M536.5 281v7M533 286.5h7M536.5 283v7M534 286.5h7M537.5 283v7M534 285.5h7M537.5 282v7M534 287.5h7M537.5 284v7M534 283.5h7M537.5 280v7M535 288.5h7M538.5 285v7M535 282.5h7M538.5 279v7M535 285.5h7M538.5 282v7M535 283.5h7M538.5 280v7M536 283.5h7M539.5 280v7M536 286.5h7M539.5 283v7M536 285.5h7M539.5 282v7M537 284.5h7M540.5 281v7M537 281.5h7M540.5 278v7M537 286.5h7M540.5 283v7M537 285.5h7M540.5 282v7M538 281.5h7M541.5 278v7M538 280.5h7M541.5 277v7M538 282.5h7M541.5 279v7M538 283.5h7M541.5 280v7M539 282.5h7M542.5 279v7M539 284.5h7M542.5 281v7M539 283.5h7M542.5 280v7M539 285.5h7M542.5 282v7M540 280.5h7M543.5 277v7M540 283.5h7M543.5 280v7M540 285.5h7M543.5 282v7M541 280.5h7M544.5 277v7M541 285.5h7M544.5 282v7M541 284.5h7M544.5 281v7M541 283.5h7M544.5 280v7M542 284.5h7M545.5 281v7M542 280.5h7M545.5 277v7M542 283.5h7M545.5 280v7M542 285.5h7M545.5 282v7M543 282.5h7M546.5 279v7M543 281.5h7M546.5 278v7M543 283.5h7M546.5 280v7M543 280.5h7M546.5 277v7M544 280.5h7M547.5 277v7M544 278.5h7M547.5 275v7M544 279.5h7M547.5 276v7M544 282.5h7M547.5 279v7M545 280.5h7M548.5 277v7M545 278.5h7M548.5 275v7M545 282.5h7M548.5 279v7M545 285.5h7M548.5 282v7M546 279.5h7M549.5 276v7M546 282.5h7M549.5 279v7M546 285.5h7M549.5 282v7M546 280.5h7M549.5 277v7M547 280.5h7M550.5 277v7M547 277.5h7M550.5 274v7M547 279.5h7M550.5 276v7M547 283.5h7M550.5 280v7M548 284.5h7M551.5 281v7M548 273.5h7M551.5 270v7M548 283.5h7M551.5 280v7M548 276.5h7M551.5 273v7M548 282.5h7M551.5 279v7M549 273.5h7M552.5 270v7M549 279.5h7M552.5 276v7M549 276.5h7M552.5 273v7M549 285.5h7M552.5 282v7M549 280.5h7M552.5 277v7M550 285.5h7M553.5 282v7M550 277.5h7M553.5 274v7M550 287.5h7M553.5 284v7M551 276.5h7M554.5 273v7M551 274.5h7M554.5 271v7M551 283.5h7M554.5 280v7M551 277.5h7M554.5 274v7M551 278.5h7M554.5 275v7M552 271.5h7M555.5 268v7M552 277.5h7M555.5 274v7M552 279.5h7M555.5 276v7M552 274.5h7M555.5 271v7M552 280.5h7M555.5 277v7M553 269.5h7M556.5 266v7M553 283.5h7M556.5 280v7M553 276.5h7M556.5 273v7M553 286.5h7M556.5 283v7M554 274.5h7M557.5 271v7M554 275.5h7M557.5 272v7M554 279.5h7M557.5 276v7M554 281.5h7M557.5 278v7M555 273.5h7M558.5 270v7M555 280.5h7M558.5 277v7M555 282.5h7M558.5 279v7M555 268.5h7M558.5 265v7M555 271.5h7M558.5 268v7M556 273.5h7M559.5 270v7M556 287.5h7M559.5 284v7M556 284.5h7M559.5 281v7M527 283.5h7M530.5 280v7M540 272.5h7M543.5 269v7M543 272.5h7M546.5 269v7M540 275.5h7M543.5 272v7M542 275.5h7M545.5 272v7M539 278.5h7M542.5 275v7M541 278.5h7M544.5 275v7M551 269.5h7M554.5 266v7M552 270.5h7M555.5 267v7M554 269.5h7M557.5 266v7M555 270.5h7M558.5 267v7M556 271.5h7M559.5 268v7M553 272.5h7M556.5 269v7M552 273.5h7M555.5 270v7M556 275.5h7M559.5 272v7M550 272.5h7M553.5 269v7M557 284.5h7M560.5 281v7M556 281.5h7M559.5 278v7M555 292.5h7M558.5 289v7M555 294.5h7M558.5 291v7M553 296.5h7M556.5 293v7M552 297.5h7M555.5 294v7M551 300.5h7M554.5 297v7M545 297.5h7M548.5 294v7M539 303.5h7M542.5 300v7M553 293.5h7M556.5 290v7M556 278.5h7M559.5 275v7M556 290.5h7M559.5 287v7M79 109.5h7M82.5 106v7M80 342.5h7M83.5 339v7M80 348.5h7M83.5 345v7M80 355.5h7M83.5 352v7M80 352.5h7M83.5 349v7M145 339.5h7M148.5 336v7M181 335.5h7M184.5 332v7M204 328.5h7M207.5 325v7M210 329.5h7M213.5 326v7M212 350.5h7M215.5 347v7M237 328.5h7M240.5 325v7M276 339.5h7M279.5 336v7M277 339.5h7M280.5 336v7M278 339.5h7M281.5 336v7M277 340.5h7M280.5 337v7M292 338.5h7M295.5 335v7M302 288.5h7M305.5 285v7M303 308.5h7M306.5 305v7M305 335.5h7M308.5 332v7M316 332.5h7M319.5 329v7M319 333.5h7M322.5 330v7M320 335.5h7M323.5 332v7M318 327.5h7M321.5 324v7M323 326.5h7M326.5 323v7M317 332.5h7M320.5 329v7M321 330.5h7M324.5 327v7M333 335.5h7M336.5 332v7M335 335.5h7M338.5 332v7M337 335.5h7M340.5 332v7M339 336.5h7M342.5 333v7M341 335.5h7M344.5 332v7M342 335.5h7M345.5 332v7M345 335.5h7M348.5 332v7M338 337.5h7M341.5 334v7M342 338.5h7M345.5 335v7M334 337.5h7M337.5 334v7M340 334.5h7M343.5 331v7M354 335.5h7M357.5 332v7M355 332.5h7M358.5 329v7M368 332.5h7M371.5 329v7M368 334.5h7M371.5 331v7M382 329.5h7M385.5 326v7M382 331.5h7M385.5 328v7M385 330.5h7M388.5 327v7M385 332.5h7M388.5 329v7M389 330.5h7M392.5 327v7M394 331.5h7M397.5 328v7M398 332.5h7M401.5 329v7M394 333.5h7M397.5 330v7M409 330.5h7M412.5 327v7M410 332.5h7M413.5 329v7M414 332.5h7M417.5 329v7M408 331.5h7M411.5 328v7M410 329.5h7M413.5 326v7M417 332.5h7M420.5 329v7M420 333.5h7M423.5 330v7M421 330.5h7M424.5 327v7M425 329.5h7M428.5 326v7M427 328.5h7M430.5 325v7M432 329.5h7M435.5 326v7M436 328.5h7M439.5 325v7M423 331.5h7M426.5 328v7M418 331.5h7M421.5 328v7M458 312.5h7M461.5 309v7M477 337.5h7M480.5 334v7M571 57.5h7M574.5 54v7" fill="none" stroke="#9400d3" stroke-width="1" shape-rendering="crispEdges"/>
<path d="M82.5 45.5H612.5V431.5H82.5Z" fill="none" stroke="#000" stroke-width="1" shape-rendering="crispEdges"/>
</svg>
</body></html>
